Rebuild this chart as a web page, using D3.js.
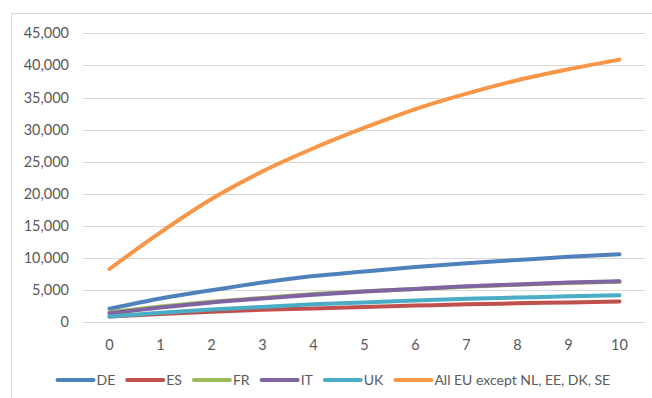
<!DOCTYPE html>
<html>
<head>
<meta charset="utf-8">
<script src="https://cdn.jsdelivr.net/npm/d3@7"></script>
<style>
  html, body { margin: 0; padding: 0; background: #fff; }
  svg { display: block; }
  text { font-family: Lato, "Liberation Sans", sans-serif; fill: #595959; }
</style>
</head>
<body>
<svg id="chart" width="652" height="398"></svg>
<script>
// Years since start (category axis)
const years = [0, 1, 2, 3, 4, 5, 6, 7, 8, 9, 10];

// Cumulative values per series
const seriesNames = ["DE", "ES", "FR", "IT", "UK", "All EU except NL, EE, DK, SE"];
const valuesDE = [2100, 3700, 5000, 6200, 7200, 7900, 8600, 9200, 9700, 10200, 10600];
const valuesES = [900, 1300, 1650, 1950, 2150, 2400, 2600, 2800, 2950, 3100, 3250];
const valuesFR = [1550, 2450, 3200, 3800, 4400, 4850, 5200, 5550, 5850, 6100, 6300];
const valuesIT = [1400, 2300, 3100, 3700, 4300, 4800, 5200, 5600, 5900, 6200, 6400];
const valuesUK = [900, 1500, 2000, 2400, 2800, 3100, 3400, 3650, 3850, 4050, 4200];
const valuesEU = [8300, 14000, 19200, 23500, 27100, 30300, 33200, 35600, 37700, 39400, 40900];

// Y axis ticks
const yTicks = [0, 5000, 10000, 15000, 20000, 25000, 30000, 35000, 40000, 45000];

const colors = ["#4F81BD", "#C0504D", "#9BBB59", "#8064A2", "#4BACC6", "#F79646"];
const allValues = [valuesDE, valuesES, valuesFR, valuesIT, valuesUK, valuesEU];

const series = seriesNames.map((name, i) => ({
  name, color: colors[i], values: allValues[i]
}));

const svg = d3.select("#chart");

// Chart frame
svg.append("rect")
  .attr("x", 11.5).attr("y", 13.5)
  .attr("width", 700).attr("height", 450)
  .attr("fill", "#fff")
  .attr("stroke", "#d9d9d9").attr("stroke-width", 1);

const x = d3.scalePoint().domain(years).range([84, 645]).padding(0.5);
const y = d3.scaleLinear().domain([0, 45000]).range([322.3, 33.3]);

// Horizontal gridlines
svg.append("g")
  .selectAll("line")
  .data(yTicks)
  .join("line")
  .attr("x1", 83).attr("x2", 645)
  .attr("y1", d => Math.round(y(d)) + 0.5)
  .attr("y2", d => Math.round(y(d)) + 0.5)
  .attr("stroke", "#d9d9d9").attr("stroke-width", 1);

// Y axis labels
const fmt = d3.format(",");
svg.append("g")
  .selectAll("text")
  .data(yTicks)
  .join("text")
  .attr("x", 69)
  .attr("y", d => y(d))
  .attr("dy", "0.35em")
  .attr("text-anchor", "end")
  .attr("font-size", 14.5)
  .text(d => fmt(d));

// X axis labels
svg.append("g")
  .selectAll("text")
  .data(years)
  .join("text")
  .attr("x", d => x(d))
  .attr("y", 345)
  .attr("dy", "0.35em")
  .attr("text-anchor", "middle")
  .attr("font-size", 14.5)
  .text(d => d);

// Series lines
const line = d3.line()
  .x((d, i) => x(years[i]))
  .y(d => y(d))
  .curve(d3.curveMonotoneX);

svg.append("g")
  .selectAll("path")
  .data(series)
  .join("path")
  .attr("d", d => line(d.values))
  .attr("fill", "none")
  .attr("stroke", d => d.color)
  .attr("stroke-width", 4)
  .attr("stroke-linecap", "round")
  .attr("stroke-linejoin", "round");

// Legend
const legend = svg.append("g");
let lx = 57.5;
const ly = 380;
series.forEach(s => {
  legend.append("line")
    .attr("x1", lx).attr("x2", lx + 36)
    .attr("y1", ly).attr("y2", ly)
    .attr("stroke", s.color).attr("stroke-width", 4)
    .attr("stroke-linecap", "round");
  const t = legend.append("text")
    .attr("x", lx + 39)
    .attr("y", ly)
    .attr("dy", "0.35em")
    .attr("font-size", 14)
    .text(s.name);
  lx += 39 + t.node().getComputedTextLength() + 12;
});
</script>
</body>
</html>
